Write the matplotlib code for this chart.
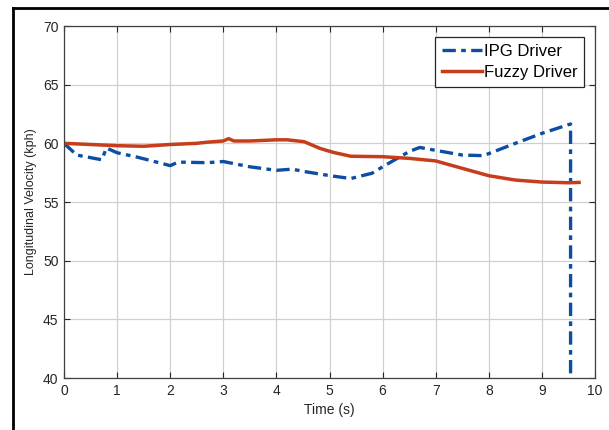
import matplotlib
matplotlib.use("Agg")
import matplotlib.pyplot as plt
from matplotlib.lines import Line2D

plt.rcParams['font.family'] = ['Liberation Sans', 'DejaVu Sans']

# Longitudinal velocity traces (time in s, speed in kph)
ipg_time = [0.0, 0.24, 0.71, 0.8, 1.0, 1.4, 2.0, 2.15, 2.7, 3.0, 3.5, 4.0, 4.3,
            4.52, 5.0, 5.4, 5.8, 6.0, 6.5, 6.7, 7.0, 7.5, 7.9, 8.5, 9.0, 9.54, 9.54]
ipg_speed = [60.0, 59.0, 58.6, 59.6, 59.2, 58.8, 58.1, 58.4, 58.35, 58.45, 58.0, 57.7, 57.8,
             57.6, 57.25, 57.0, 57.45, 58.0, 59.3, 59.65, 59.4, 59.0, 58.95, 60.0, 60.85, 61.65, 38.0]

fuzzy_time = [0.0, 0.5, 1.0, 1.5, 2.0, 2.5, 2.7, 3.0, 3.1, 3.2, 3.5, 4.0, 4.2, 4.52,
              4.57, 4.82, 5.07, 5.4, 6.0, 6.5, 7.0, 7.5, 8.0, 8.5, 9.0, 9.5, 9.7]
fuzzy_speed = [60.0, 59.9, 59.8, 59.75, 59.9, 60.0, 60.1, 60.2, 60.4, 60.2, 60.2, 60.3, 60.3, 60.14,
               60.05, 59.57, 59.23, 58.9, 58.86, 58.72, 58.5, 57.87, 57.24, 56.87, 56.7, 56.64, 56.67]

x_ticks = [0, 1, 2, 3, 4, 5, 6, 7, 8, 9, 10]
y_ticks = [40, 45, 50, 55, 60, 65, 70]

fig = plt.figure(figsize=(6.09, 4.30), dpi=100)
ax = fig.add_axes([64 / 609, 1 - 378 / 430, (595 - 64) / 609, (378 - 26) / 430])

ax.plot(ipg_time, ipg_speed, color='#0B4EA2', linewidth=2.4,
        linestyle=(0, (4, 1.6, 1.4, 1.6)), label='IPG Driver', clip_on=True)
ax.plot(fuzzy_time, fuzzy_speed, color='#C63D1C', linewidth=2.5, label='Fuzzy Driver')

ax.set_xlim(0, 10)
ax.set_ylim(40, 70)
ax.set_xticks(x_ticks)
ax.set_yticks(y_ticks)
ax.grid(True, color='#D0D0D0', linewidth=0.9)
ax.set_axisbelow(True)
ax.tick_params(direction='in', length=4, width=0.8, top=True, right=True,
               labelsize=10, colors='#262626', pad=4)
for s in ax.spines.values():
    s.set_color('#404040')
    s.set_linewidth(0.9)

ax.set_xlabel('Time (s)', fontsize=10, color='#262626', labelpad=4)
ax.set_ylabel('Longitudinal Velocity (kph)', fontsize=9, color='#262626', labelpad=4)

leg = ax.legend(loc='upper right', bbox_to_anchor=(584 / 609, 1 - 37 / 430),
                bbox_transform=fig.transFigure, borderaxespad=0, fontsize=12,
                fancybox=False, framealpha=1, edgecolor='#262626',
                handlelength=2.4, handletextpad=0.1, borderpad=0.4, labelspacing=0.38)
leg.get_frame().set_linewidth(0.9)

# outer frame lines along the left and top edges
fig.add_artist(Line2D([13 / 609, 13 / 609], [0, 1 - 8 / 430], transform=fig.transFigure,
                      color='black', linewidth=2))
fig.add_artist(Line2D([13 / 609, 1], [1 - 8 / 430, 1 - 8 / 430], transform=fig.transFigure,
                      color='black', linewidth=2))

fig.savefig('out.png', dpi=100)
